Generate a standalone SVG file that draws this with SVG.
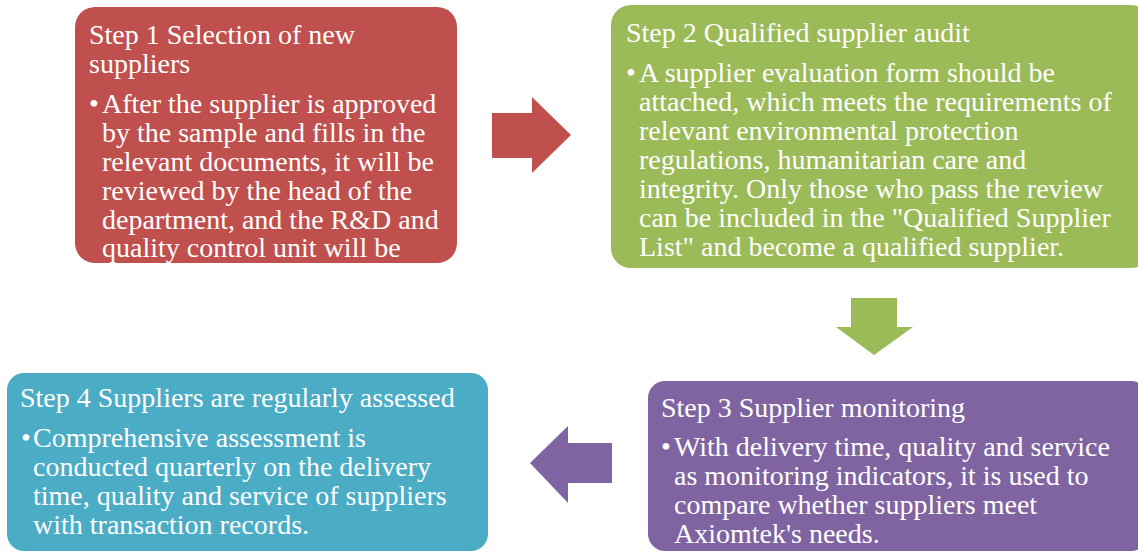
<svg xmlns="http://www.w3.org/2000/svg" width="1138" height="552" viewBox="0 0 1138 552">
<style>
text{font-family:"Liberation Serif","Times New Roman",serif;font-size:28px;fill:#ffffff}
.red{fill:#C0504D}.green{fill:#9BBB59}.purple{fill:#8064A2}.teal{fill:#4BACC6}
</style>
<rect width="1138" height="552" fill="#ffffff"/>
<g id="connectors">
<polygon class="red" points="492,113 532,113 532,97 571,135 532,173 532,158 492,158"/>
<polygon class="green" points="851,298 897,298 897,327 913,327 874,355 836,327 851,327"/>
<polygon class="purple" points="612,443 568,443 568,426 530,463 568,503 568,483 612,483"/>
</g>
<g id="step1">
<rect class="red" x="75" y="7" width="382" height="256" rx="20"/>
<text x="89" y="44">Step 1 Selection of new</text>
<text x="89" y="73">suppliers</text>
<text x="89" y="113">•</text>
<text x="102" y="113">After the supplier is approved</text>
<text x="102" y="142">by the sample and fills in the</text>
<text x="102" y="171">relevant documents, it will be</text>
<text x="102" y="200">reviewed by the head of the</text>
<text x="102" y="229">department, and the R&amp;D and</text>
<text x="102" y="257">quality control unit will be</text>
</g>
<g id="step2">
<rect class="green" x="611" y="5" width="540" height="263" rx="20"/>
<text x="626" y="42">Step 2 Qualified supplier audit</text>
<text x="626" y="82">•</text>
<text x="639" y="82">A supplier evaluation form should be</text>
<text x="639" y="111">attached, which meets the requirements of</text>
<text x="639" y="140">relevant environmental protection</text>
<text x="639" y="169">regulations, humanitarian care and</text>
<text x="639" y="198">integrity. Only those who pass the review</text>
<text x="639" y="227">can be included in the "Qualified Supplier</text>
<text x="639" y="256">List" and become a qualified supplier.</text>
</g>
<g id="step3">
<rect class="purple" x="648" y="381" width="500" height="170" rx="17"/>
<text x="661" y="417">Step 3 Supplier monitoring</text>
<text x="661" y="456">•</text>
<text x="674" y="456">With delivery time, quality and service</text>
<text x="674" y="485">as monitoring indicators, it is used to</text>
<text x="674" y="514">compare whether suppliers meet</text>
<text x="674" y="543">Axiomtek's needs.</text>
</g>
<g id="step4">
<rect class="teal" x="7" y="373" width="481" height="178" rx="17"/>
<text x="20" y="407">Step 4 Suppliers are regularly assessed</text>
<text x="21" y="447">•</text>
<text x="33" y="447">Comprehensive assessment is</text>
<text x="33" y="476">conducted quarterly on the delivery</text>
<text x="33" y="505">time, quality and service of suppliers</text>
<text x="33" y="534">with transaction records.</text>
</g>
</svg>
